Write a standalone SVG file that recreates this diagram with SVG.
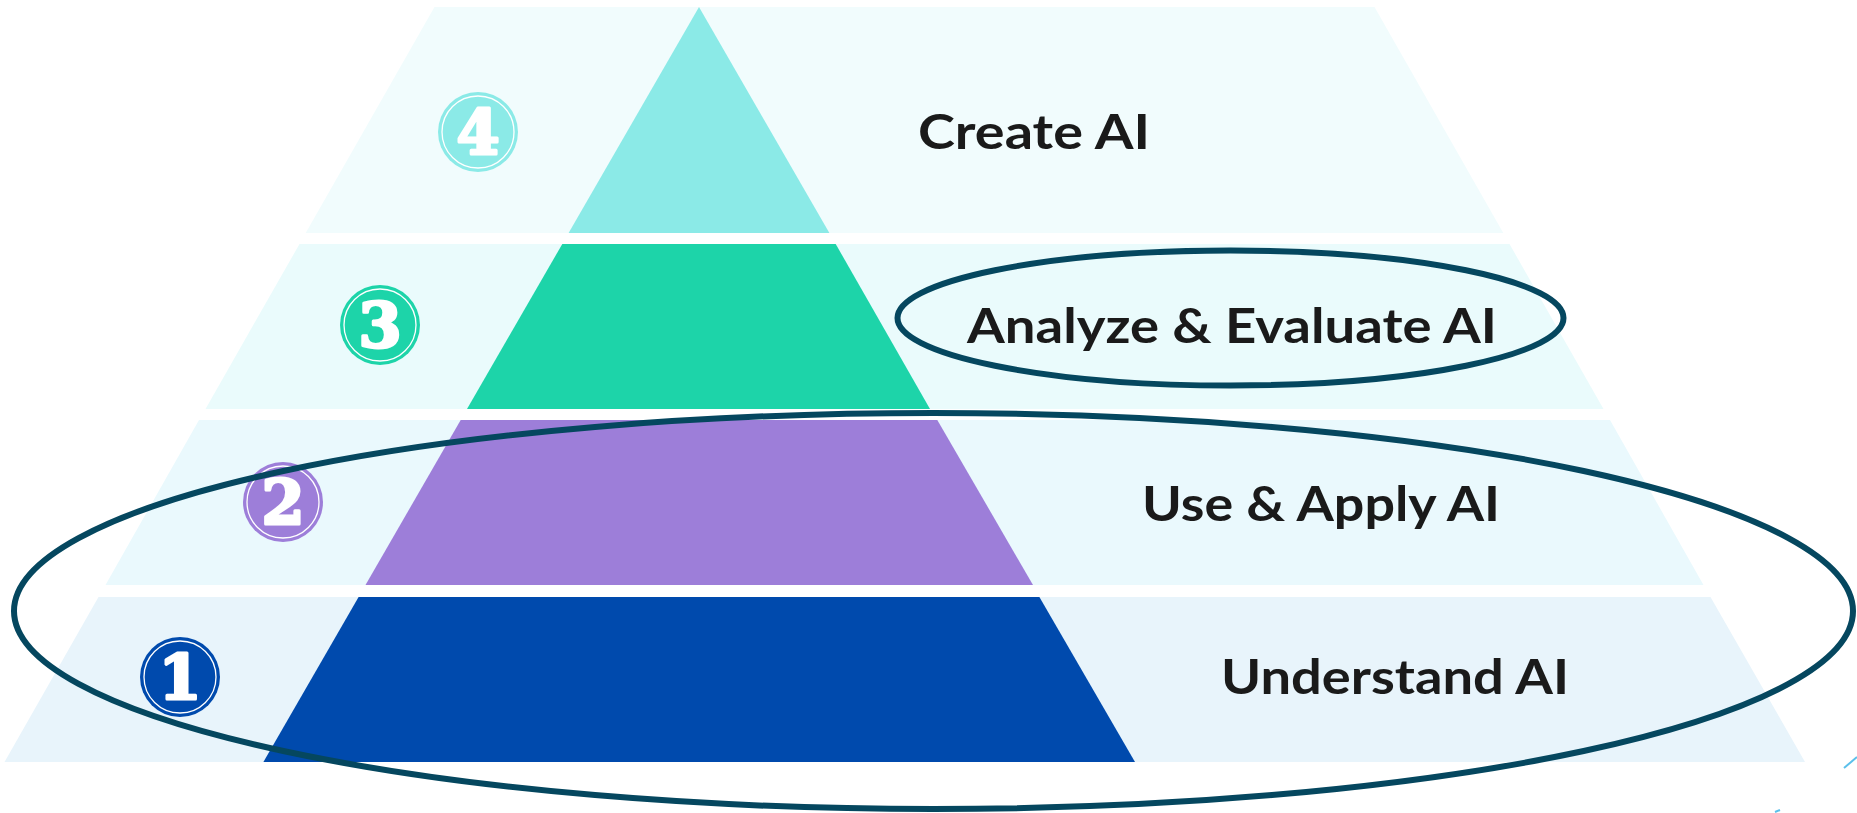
<svg xmlns="http://www.w3.org/2000/svg" width="1857" height="813" viewBox="0 0 1857 813">
<style>
.lbl{font-family:"Lato","Liberation Sans",sans-serif;font-weight:700;font-size:48px;fill:#1a1a1a}
.num{font-family:"DejaVu Serif","Liberation Serif",serif;font-weight:700;font-size:62px;fill:#ffffff;stroke:#ffffff;stroke-width:3;stroke-linejoin:round;text-anchor:middle}
.ring{fill:none;stroke:#ffffff;stroke-width:1.3}
.hl{fill:none;stroke:#05475f;stroke-width:6}
</style>
<rect width="1857" height="813" fill="#ffffff"/>
<g id="tier4">
<polygon points="434.5,7 1374.5,7 1503.3,233 305.7,233" fill="#f1fcfd"/>
<polygon points="699,7 568.6,233 829.4,233" fill="#8beae7"/>
<circle cx="478" cy="132" r="40" fill="#8beae7"/>
<circle class="ring" cx="478" cy="132" r="36"/>
<text class="num" x="478" y="154">4</text>
<text class="lbl" x="918" y="149" textLength="232" lengthAdjust="spacingAndGlyphs">Create AI</text>
</g>
<g id="tier3">
<polygon points="299.5,244 1509.5,244 1603.5,409 205.5,409" fill="#eafbfc"/>
<polygon points="562.3,244 835.7,244 930,409 467,409" fill="#1dd4a9"/>
<circle cx="380" cy="325" r="40" fill="#1dd4a9"/>
<circle class="ring" cx="380" cy="325" r="36"/>
<text class="num" x="380" y="347">3</text>
<text class="lbl" x="967" y="343" textLength="530" lengthAdjust="spacingAndGlyphs">Analyze &amp; Evaluate AI</text>
</g>
<g id="tier2">
<polygon points="199,420 1610,420 1703.5,585 105.5,585" fill="#eaf9fd"/>
<polygon points="460.7,420 937.3,420 1033,585 365.5,585" fill="#9d7ed9"/>
<circle cx="283" cy="502" r="40" fill="#9d7ed9"/>
<circle class="ring" cx="283" cy="502" r="36"/>
<text class="num" x="283" y="524">2</text>
<text class="lbl" x="1142" y="521" textLength="358" lengthAdjust="spacingAndGlyphs">Use &amp; Apply AI</text>
</g>
<g id="tier1">
<polygon points="98.5,597 1710.5,597 1805,762 4.5,762" fill="#e8f4fb"/>
<polygon points="358.6,597 1039.4,597 1135,762 263.4,762" fill="#004aad"/>
<circle cx="180" cy="677" r="40" fill="#004aad"/>
<circle class="ring" cx="180" cy="677" r="36"/>
<text class="num" x="180" y="699">1</text>
<text class="lbl" x="1221" y="694" textLength="348" lengthAdjust="spacingAndGlyphs">Understand AI</text>
</g>
<g id="highlights">
<ellipse class="hl" cx="1230.5" cy="318" rx="333" ry="67.5"/>
<ellipse class="hl" cx="933.5" cy="611" rx="919.5" ry="198"/>
</g>
<g id="marks" stroke="#5bc0eb" stroke-width="2" fill="none">
<line x1="1844" y1="768" x2="1857" y2="757"/>
<line x1="1775" y1="812" x2="1780" y2="810"/>
</g>
</svg>
